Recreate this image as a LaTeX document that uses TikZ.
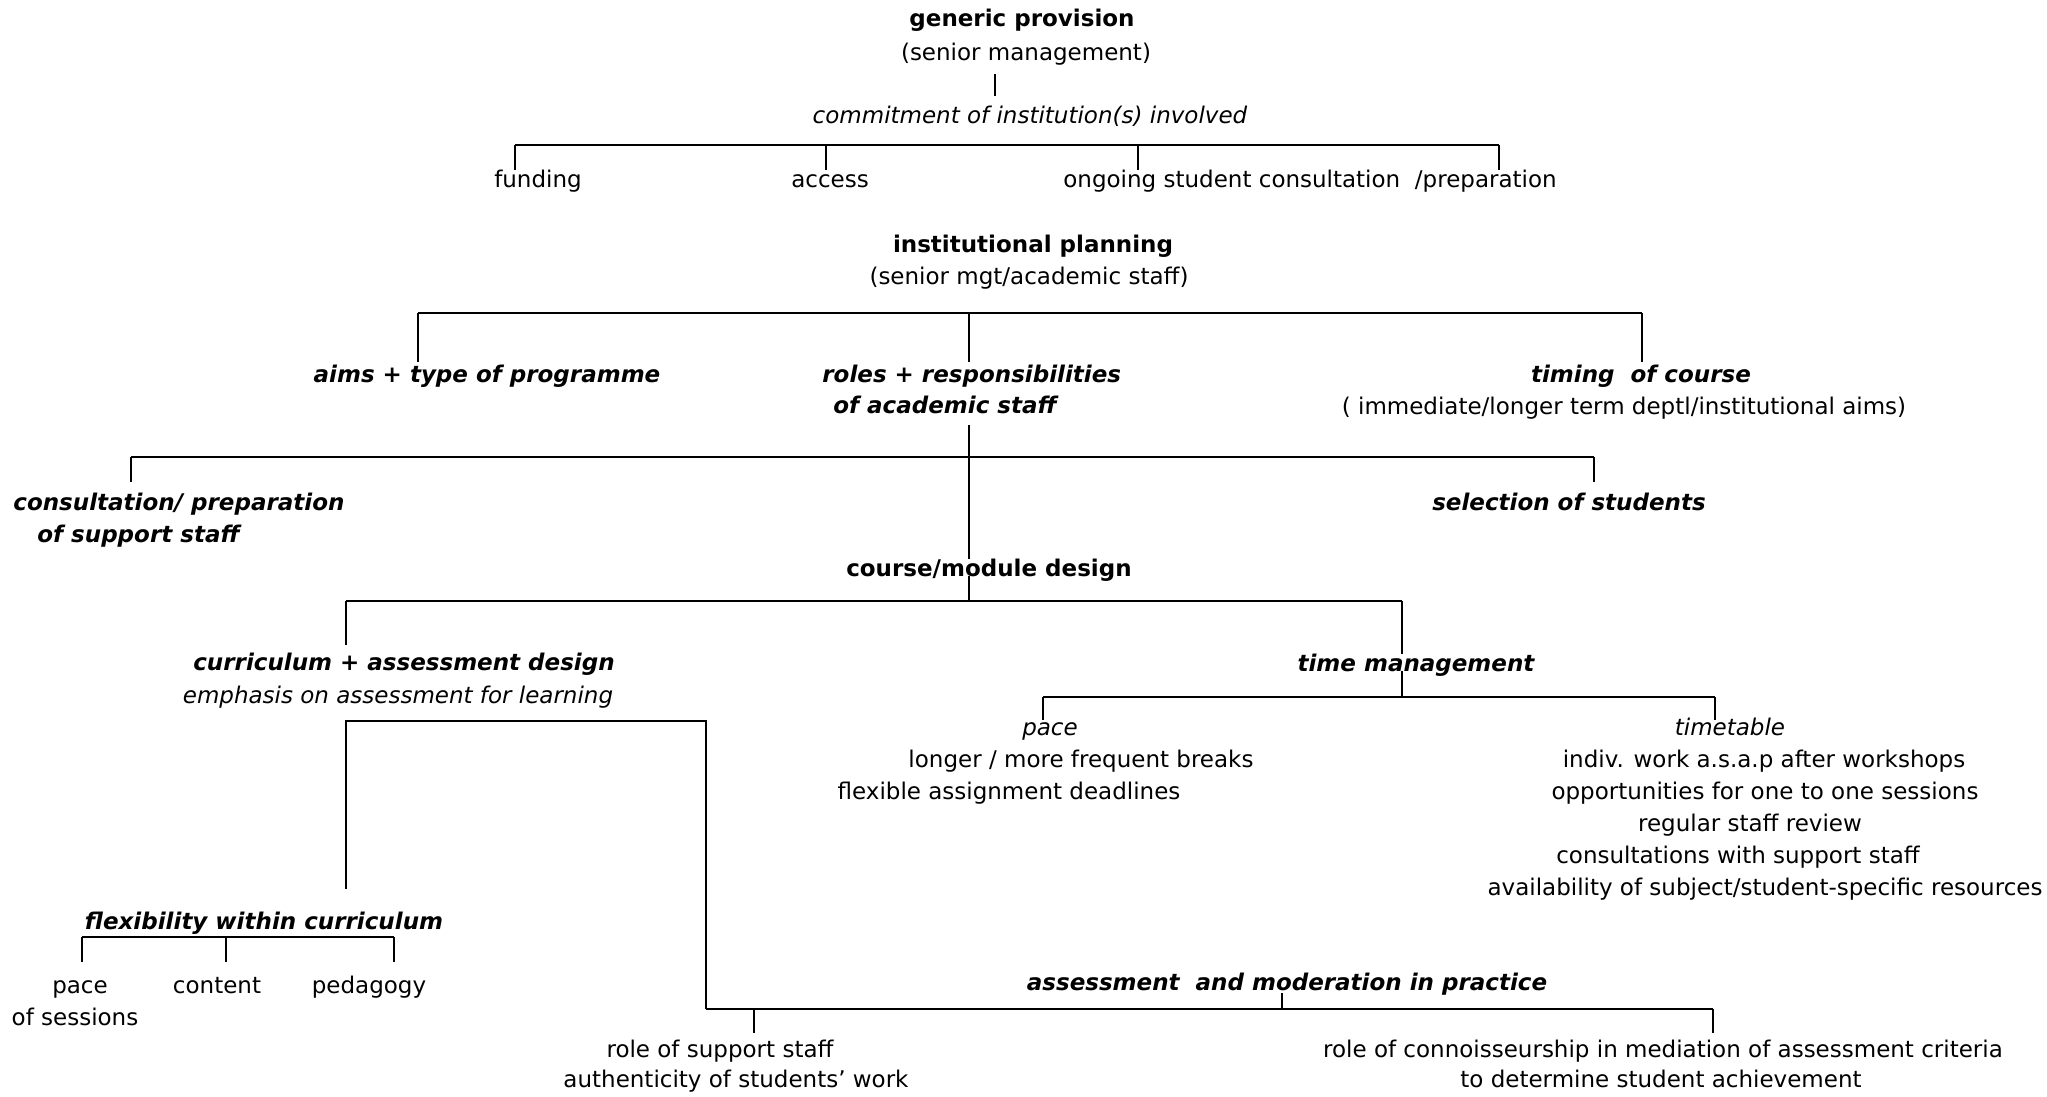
\documentclass[tikz,border=0pt]{standalone}
\usepackage{fontspec}
\setmainfont{DejaVu Sans}
\usepackage{tikz}
\usetikzlibrary{positioning,calc}

\begin{document}
\fontsize{11.5}{16}\selectfont
\begin{tikzpicture}
  [
    x=0.5pt, y=-0.5pt,
    txt/.style  = {anchor=base, inner sep=0pt},
    hd/.style   = {txt, font=\bfseries},
    hdit/.style = {txt, font=\bfseries\itshape},
    it/.style   = {txt, font=\itshape},
    mask/.style = {fill=white, text depth=0pt},
    bar/.style  = {line width=1pt},
    tick/.style = {line width=0.75pt},
  ]
  \useasboundingbox (0,0) rectangle (2047,1097);

  % generic provision
  \node (gp) at (1022,27) [hd] {generic provision};
  \node (gpsub) at (1026,61) [txt] {(senior management)};
  \coordinate (gptop) at (995,74);
  \coordinate (gpbot) at (995,96);
  \draw[tick] (gptop) -- (gpbot);
  \node (commit) at (1030,124) [it] {commitment of institution(s) involved};

  \draw[bar] (515,145) -- (1499,145);
  \foreach \x in {515,826,1138,1499}
    \draw[tick] (\x,145) -- (\x,170);
  \node (fund) at (538,188) [txt] {funding};
  \node (access) at (830,188) [txt] {access};
  \node (ongoing) at (1310,188) [txt] {ongoing student consultation\ \ /preparation};

  % institutional planning
  \node (ip) at (1033,252) [hd] {institutional planning};
  \node (ipsub) at (1029,285) [txt] {(senior mgt/academic staff)};

  \draw[bar] (418,313) -- (1642,313);
  \foreach \x in {418,969,1642}
    \draw[tick] (\x,313) -- (\x,362);
  \node (aims) at (487,382) [hdit] {aims + type of programme};
  \node (roles) at (822,382) [hdit, anchor=base west] {roles + responsibilities};
  \node (roles2) at (833,413) [hdit, anchor=base west] {of academic staff};
  \node (timing) at (1641,382) [hdit] {timing\ \ of course};
  \node (timingsub) at (1624,414) [txt] {( immediate/longer term deptl/institutional aims)};

  % trunk down to course design
  \coordinate (trunk) at (969,425);
  \coordinate (cdbar) at (969,601);
  \draw[tick] (trunk) -- (cdbar);
  \draw[bar] (131,457) -- (1594,457);
  \foreach \x in {131,1594}
    \draw[tick] (\x,457) -- (\x,482);
  \node (cons) at (13,510) [hdit, anchor=base west] {consultation/ preparation};
  \node (cons2) at (37,542) [hdit, anchor=base west] {of support staff};
  \node (select) at (1569,510) [hdit] {selection of students};

  \node (design) at (989,576) [hd, mask] {course/module design};

  \draw[bar] (346,601) -- (1402,601);
  \draw[tick] (346,601) -- (346,645);
  \draw[tick] (1402,601) -- (1402,697);
  \node (curric) at (404,670) [hdit] {curriculum + assessment design};
  \node (emph) at (398,703) [it] {emphasis on assessment for learning};
  \node (time) at (1416,671) [hdit, mask] {time management};

  % time management
  \draw[bar] (1043,697) -- (1715,697);
  \foreach \x in {1043,1715}
    \draw[tick] (\x,697) -- (\x,720);
  \node (pace) at (1050,735) [it] {pace};
  \node (pace1) at (1081,767) [txt] {longer / more frequent breaks};
  \node (pace2) at (1009,799) [txt] {flexible assignment deadlines};
  \node (tt) at (1730,735) [it] {timetable};
  \foreach \i/\x/\y/\t in {1/1764/767/{indiv. work a.s.a.p after workshops},
                           2/1765/799/{opportunities for one to one sessions},
                           3/1750/831/{regular staff review},
                           4/1738/863/{consultations with support staff},
                           5/1765/895/{availability of subject/student-specific resources}}
    \node (tt\i) at (\x,\y) [txt] {\t};

  % curriculum branches
  \draw[tick] (346,889) -- (346,721) -- (706,721) -- (706,1009);
  \draw[bar] (706,1009) -- (1713,1009);
  \draw[tick] (754,1009) -- (754,1033);
  \draw[tick] (1713,1009) -- (1713,1033);
  \draw[tick] (1282,993) -- (1282,1009);

  \node (flex) at (264,929) [hdit] {flexibility within curriculum};
  \draw[bar] (82,937) -- (394,937);
  \foreach \x in {82,226,394}
    \draw[tick] (\x,937) -- (\x,962);
  \node (fpace) at (80,993) [txt] {pace};
  \node (fpace2) at (75,1025) [txt] {of sessions};
  \node (content) at (217,993) [txt] {content};
  \node (pedag) at (369,993) [txt] {pedagogy};

  \node (assess) at (1287,990) [hdit] {assessment\ \ and moderation in practice};
  \node (support) at (720,1057) [txt] {role of support staff};
  \node (support2) at (736,1087) [txt] {authenticity of students’ work};
  \node (conn) at (1663,1057) [txt] {role of connoisseurship in mediation of assessment criteria};
  \node (conn2) at (1661,1087) [txt] {to determine student achievement};
\end{tikzpicture}
\end{document}
